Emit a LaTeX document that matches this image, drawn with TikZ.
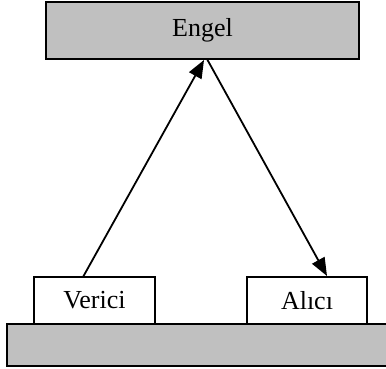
\documentclass[tikz,border=0pt]{standalone}
\usepackage{fontspec}
\setmainfont{Liberation Serif}
\usetikzlibrary{arrows.meta}
\begin{document}
\begin{tikzpicture}[x=1pt,y=-1pt,
  box/.style={draw=black,line width=2pt,inner sep=0pt,font=\fontsize{26}{30}\selectfont},
  graybox/.style={box,fill={rgb,255:red,192;green,192;blue,192}},
  whitebox/.style={box,fill=white},
  ray/.style={draw=black,line width=1.8pt},
  tip/.style={-{Triangle[length=18pt,width=14pt]}}]
\useasboundingbox (0,0) rectangle (386,369);
\begin{scope}
\clip (0,0) rectangle (386,369);
% ground plate
\node[graybox,minimum width=390pt,minimum height=42pt] (ground) at (202,345) {};
\end{scope}
% obstacle
\node[graybox,minimum width=313pt,minimum height=57pt] (engel) at (202.5,30.5) {Engel};
% transmitter and receiver
\node[whitebox,minimum width=121pt,minimum height=47pt] (verici) at (94.5,300.5) {Verici};
\node[whitebox,minimum width=120pt,minimum height=47pt] (alici) at (307,300.5) {Alıcı};
% reflection points
\coordinate (vout) at (83,277);
\coordinate (hit) at (204,60);
\coordinate (hout) at (207,59);
\coordinate (ain) at (327,276);
\draw[ray,tip] (vout) -- (hit);
\draw[ray,tip] (hout) -- (ain);
\end{tikzpicture}
\end{document}
